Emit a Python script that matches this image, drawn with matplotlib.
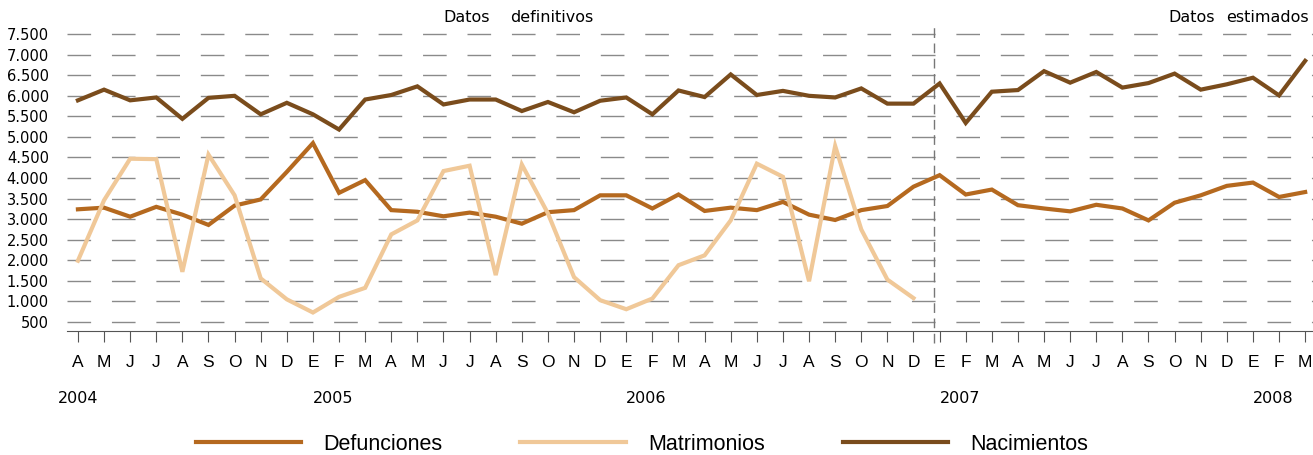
import numpy as np
import matplotlib
matplotlib.use("Agg")
import matplotlib.pyplot as plt

# months from April 2004 to March 2008
months = ["A", "M", "J", "J", "A", "S", "O", "N", "D",
          "E", "F", "M", "A", "M", "J", "J", "A", "S", "O", "N", "D",
          "E", "F", "M", "A", "M", "J", "J", "A", "S", "O", "N", "D",
          "E", "F", "M", "A", "M", "J", "J", "A", "S", "O", "N", "D",
          "E", "F", "M"]
years = ["2004", "2005", "2006", "2007", "2008"]

defunciones = [3240, 3280, 3060, 3300, 3110, 2860, 3330, 3480, 4150,
               4850, 3640, 3950, 3220, 3180, 3070, 3160, 3060, 2890, 3170, 3220, 3580,
               3580, 3260, 3600, 3200, 3280, 3220, 3420, 3110, 2980, 3220, 3320, 3790,
               4070, 3600, 3720, 3340, 3260, 3190, 3350, 3260, 2970, 3400, 3580, 3810,
               3890, 3540, 3660]
matrimonios = [1990, 3460, 4470, 4460, 1720, 4570, 3580, 1560, 1050,
               730, 1110, 1330, 2630, 2970, 4170, 4300, 1640, 4330, 3140, 1590, 1030,
               810, 1070, 1880, 2120, 2970, 4350, 4030, 1490, 4780, 2750, 1530, 1080]
nacimientos = [5890, 6150, 5890, 5960, 5440, 5950, 6000, 5550, 5830,
               5550, 5180, 5910, 6020, 6230, 5790, 5910, 5910, 5630, 5850, 5600, 5880,
               5960, 5550, 6130, 5970, 6520, 6020, 6120, 6000, 5960, 6180, 5810, 5810,
               6300, 5340, 6100, 6140, 6600, 6320, 6580, 6200, 6310, 6540, 6150, 6280,
               6440, 6010, 6850]

c_def = "#B5691F"
c_mat = "#F0C898"
c_nac = "#7A4C1C"

fig = plt.figure(figsize=(13.13, 4.55), dpi=100)
ax = fig.add_axes([0.051, 0.2725, 0.949, 0.6615])

x = np.arange(len(months))
ax.plot(x, defunciones, color=c_def, lw=3, solid_joinstyle="miter", label="Defunciones", zorder=3)
ax.plot(x[:len(matrimonios)], matrimonios, color=c_mat, lw=3, solid_joinstyle="miter", label="Matrimonios", zorder=3)
ax.plot(x, nacimientos, color=c_nac, lw=3, solid_joinstyle="miter", label="Nacimientos", zorder=3)

ax.set_xlim(-0.42, 47.3)
ax.set_ylim(280, 7600)
yt = np.arange(500, 7501, 500)
ax.set_yticks(yt)
ax.set_yticklabels([f"{v:,}".replace(",", ".") for v in yt], fontsize=10.5, family="DejaVu Sans")
for v in yt:
    ax.axhline(v, color="#8a8a8a", lw=1, dashes=(17, 15), zorder=1)
ax.tick_params(axis="y", length=0, pad=13)

ax.set_xticks(x)
ax.set_xticklabels(months, fontsize=12.5, family="Liberation Sans")
ax.tick_params(axis="x", length=8, direction="out", color="#555555", pad=9)

for s in ["top", "right", "left"]:
    ax.spines[s].set_visible(False)
ax.spines["bottom"].set_color("#555555")

# separation between definitive and estimated data
ax.axvline(32.8, ymin=-0.04, ymax=1.017, color="#777777", lw=1, dashes=(7, 4), clip_on=False)

ax.text(13.98, 7913, "Datos", fontsize=11.5, family="DejaVu Sans", va="center")
ax.text(16.55, 7913, "definitivos", fontsize=11.5, family="DejaVu Sans", va="center")
ax.text(41.76, 7913, "Datos", fontsize=11.5, family="DejaVu Sans", va="center")
ax.text(43.98, 7913, "estimados", fontsize=11.5, family="DejaVu Sans", va="center")

year_pos = [-0.77, 9, 21, 33, 45]
for xp, yl in zip(year_pos, years):
    ax.text(xp, -1350, yl, fontsize=11.5, family="DejaVu Sans", va="center")

leg = fig.legend(loc="center", bbox_to_anchor=(0.489, 0.024), ncol=3, frameon=False,
                 prop={"family": "Liberation Sans", "size": 15.5}, handlelength=4.9,
                 handletextpad=1.05, columnspacing=3.6)

fig.savefig("out.png", dpi=100)
